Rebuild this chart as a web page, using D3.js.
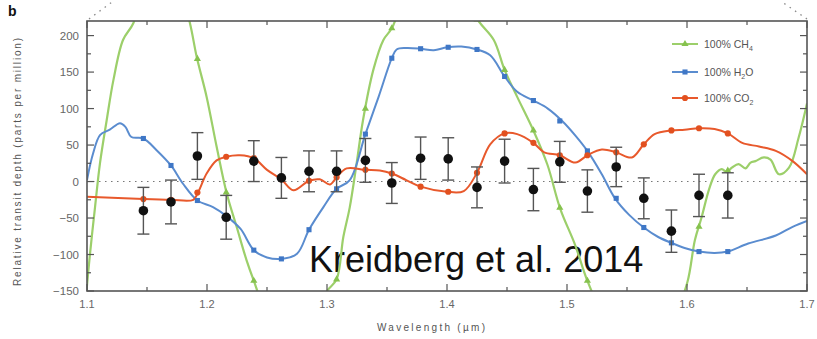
<!DOCTYPE html>
<html><head><meta charset="utf-8">
<script src="https://cdn.jsdelivr.net/npm/d3@7"></script>
<style>html,body{margin:0;padding:0;background:#fff;}svg{display:block;}</style>
</head><body>
<script>
// ---- data ----
const wavelengths = [1.147,1.170,1.192,1.216,1.239,1.262,1.285,1.308,1.332,1.354,1.378,1.401,1.425,1.448,1.472,1.494,1.517,1.541,1.564,1.587,1.610,1.634];
const depth       = [-40,-28,35,-49,28,5,14,14,29,-2,32,31,-8,28,-11,27,-13,20,-23,-68,-19,-19];
const depthErr    = [32,30,32,30,28,28,28,28,30,28,29,29,28,30,29,28,29,27,28,29,29,31];

const h2oWl  = [1.100,1.105,1.111,1.119,1.1275,1.132,1.137,1.147,1.158,1.170,1.180,1.192,1.205,1.216,1.228,1.239,1.250,1.262,1.275,1.285,1.297,1.308,1.319,1.332,1.343,1.354,1.358,1.366,1.378,1.389,1.400,1.412,1.425,1.436,1.448,1.4585,1.472,1.484,1.496,1.507,1.517,1.529,1.540,1.552,1.564,1.576,1.587,1.598,1.610,1.623,1.634,1.651,1.674,1.688,1.700];
const h2oVal = [2,38,64,71,80,75,61,59,43,22,-3,-26,-35,-47,-65,-94,-104,-106,-99,-66,-35,-10,2,65,116,169,181,183,182,180,184,185,181,173,144,123,111,100,83,63,42,10,-23,-46,-63,-76,-84,-91,-96,-98,-96,-85,-74,-62,-54];
const h2oBin = [59,22,-26,-47,-94,-106,-66,-10,65,169,182,184,181,144,111,83,42,-23,-63,-84,-96,-96];

const co2Wl  = [1.100,1.147,1.170,1.1886,1.1925,1.1997,1.208,1.216,1.2275,1.239,1.250,1.262,1.272,1.285,1.294,1.3025,1.308,1.3164,1.332,1.344,1.354,1.366,1.378,1.400,1.414,1.425,1.436,1.448,1.4585,1.472,1.481,1.494,1.507,1.517,1.529,1.541,1.554,1.564,1.573,1.587,1.598,1.610,1.623,1.634,1.646,1.660,1.674,1.688,1.700];
const co2Val = [-21,-24,-25,-25,-15,11,29,34,36,32,16,3,-12,1,3,-4,6,18,16,15,11,2,-7,-14,-13,12,51,66,65,53,40,36,26,36,44,40,33,51,65,70,71,73,72,66,53,48,42,28,10];
const co2Bin = [-24,-25,-15,34,32,3,1,6,16,11,-7,-14,12,66,53,36,36,40,51,70,73,66];

const ch4Wl  = [1.099,1.1025,1.1067,1.1108,1.1164,1.122,1.130,1.1386,1.150,1.162,1.175,1.1858,1.1914,1.1997,1.208,1.2164,1.2247,1.233,1.2386,1.250,1.270,1.290,1.300,1.308,1.3136,1.319,1.3247,1.330,1.3386,1.347,1.354,1.370,1.390,1.410,1.4263,1.439,1.448,1.4585,1.472,1.4837,1.4943,1.5068,1.517,1.530,1.560,1.590,1.6003,1.6066,1.612,1.6185,1.6235,1.629,1.633,1.6374,1.643,1.6487,1.653,1.657,1.664,1.6696,1.6766,1.685,1.693,1.700];
const ch4Val = [-160,-99,-35,25,84,139,194,217,280,300,280,217,171,116,48,-16,-62,-108,-134,-180,-210,-180,-150,-134,-76,-35,25,84,153,194,210,270,290,265,220,194,153,116,70,23,-37,-87,-136,-180,-230,-180,-138,-80,-50,-10,10,17,13,19,24,18,26,28,33,30,10,19,60,107];
const ch4Bin = [275,295,168,-15,-136,-200,-190,-134,100,210,282,277,222,153,70,-36,-136,-200,-225,-185,-62,15];

const xTicks = [1.1,1.2,1.3,1.4,1.5,1.6,1.7];
const yTicks = [-150,-100,-50,0,50,100,150,200];
const legendLabels = [["100% CH","4"],["100% H","2","O"],["100% CO","2"]];

// ---- drawing ----
const W = 817, H = 339;
const svg = d3.select("body").append("svg").attr("width", W).attr("height", H)
  .style("font-family", "'Liberation Sans', Arial, sans-serif");
svg.append("rect").attr("width", W).attr("height", H).attr("fill", "#fff");

const x = d3.scaleLinear().domain([1.1, 1.7]).range([87, 807]);
const y = d3.scaleLinear().domain([-150, 220]).range([291, 21]);
const [x0, x1] = x.range(), [y0, y1] = y.range();

const cGreen = "#9ccf6a", cBlue = "#5a8ccf", cRed = "#e8592c";
const cBlueM = "#3f77c6", cRedM = "#e2501f", cGreenM = "#86c24e";

// annotation (under the curves)
svg.append("text").attr("x", 309).attr("y", 272).attr("font-size", 36)
  .attr("font-family", "'Liberation Sans', Arial, sans-serif").attr("fill", "#111")
  .text("Kreidberg et al. 2014");

svg.append("clipPath").attr("id", "clip").append("rect")
  .attr("x", x0).attr("y", y1).attr("width", x1 - x0).attr("height", y0 - y1);
const plot = svg.append("g").attr("clip-path", "url(#clip)");

// zero dotted line
plot.append("line").attr("x1", x0).attr("x2", x1).attr("y1", y(0)).attr("y2", y(0))
  .attr("stroke", "#777").attr("stroke-width", 1.1).attr("stroke-dasharray", "1.5,4.5");

const line = d3.line().x(d => x(d[0])).y(d => y(d[1])).curve(d3.curveCatmullRom.alpha(0.5));

function drawModel(wl, val, color, width) {
  plot.append("path").datum(wl.map((w, i) => [w, val[i]]))
    .attr("d", line).attr("fill", "none").attr("stroke", color).attr("stroke-width", width);
}
drawModel(ch4Wl, ch4Val, cGreen, 2.2);
drawModel(h2oWl, h2oVal, cBlue, 2);
drawModel(co2Wl, co2Val, cRed, 2);

const tri = d3.symbol().type(d3.symbolTriangle).size(22);
const sq = d3.symbol().type(d3.symbolSquare).size(26);
const circ = d3.symbol().type(d3.symbolCircle).size(30);

plot.selectAll(".m4").data(wavelengths).enter().append("path")
  .attr("d", tri).attr("fill", cGreenM)
  .attr("transform", (d, i) => `translate(${x(d)},${y(ch4Bin[i])})`);
plot.selectAll(".mh").data(wavelengths).enter().append("path")
  .attr("d", sq).attr("fill", cBlueM)
  .attr("transform", (d, i) => `translate(${x(d)},${y(h2oBin[i])})`);
plot.selectAll(".mc").data(wavelengths).enter().append("path")
  .attr("d", circ).attr("fill", cRedM)
  .attr("transform", (d, i) => `translate(${x(d)},${y(co2Bin[i])})`);

// data with error bars
const eb = plot.append("g").attr("stroke", "#555").attr("stroke-width", 1.4);
wavelengths.forEach((w, i) => {
  const cx = x(w), top = y(depth[i] + depthErr[i]), bot = y(depth[i] - depthErr[i]);
  eb.append("line").attr("x1", cx).attr("x2", cx).attr("y1", top).attr("y2", bot);
  eb.append("line").attr("x1", cx - 6).attr("x2", cx + 6).attr("y1", top).attr("y2", top);
  eb.append("line").attr("x1", cx - 6).attr("x2", cx + 6).attr("y1", bot).attr("y2", bot);
});
plot.selectAll(".pt").data(wavelengths).enter().append("circle")
  .attr("cx", d => x(d)).attr("cy", (d, i) => y(depth[i])).attr("r", 4.8).attr("fill", "#111");

// frame and ticks
const axG = svg.append("g").attr("stroke", "#555");
axG.append("rect").attr("x", x0).attr("y", y1).attr("width", x1 - x0).attr("height", y0 - y1)
  .attr("fill", "none").attr("stroke-width", 1.6);
const xMinor = d3.range(1.1, 1.7001, 0.05);
xMinor.forEach(v => {
  const major = xTicks.some(t => Math.abs(t - v) < 1e-6);
  const L = major ? 7 : 4;
  axG.append("line").attr("x1", x(v)).attr("x2", x(v)).attr("y1", y0).attr("y2", y0 - L).attr("stroke-width", 1.2);
  axG.append("line").attr("x1", x(v)).attr("x2", x(v)).attr("y1", y1).attr("y2", y1 + L).attr("stroke-width", 1.2);
});
const yMinor = d3.range(-150, 220, 25);
yMinor.forEach(v => {
  const major = yTicks.includes(v);
  const L = major ? 7 : 4;
  axG.append("line").attr("x1", x0).attr("x2", x0 + L).attr("y1", y(v)).attr("y2", y(v)).attr("stroke-width", 1.2);
  axG.append("line").attr("x1", x1).attr("x2", x1 - L).attr("y1", y(v)).attr("y2", y(v)).attr("stroke-width", 1.2);
});

// tick labels
svg.selectAll(".yt").data(yTicks).enter().append("text")
  .attr("x", 79).attr("y", d => y(d) + 4).attr("text-anchor", "end")
  .attr("font-size", 11.5).attr("fill", "#666")
  .text(d => d < 0 ? "\u2212" + Math.abs(d) : d);
svg.selectAll(".xt").data(xTicks).enter().append("text")
  .attr("x", d => x(d)).attr("y", 308).attr("text-anchor", "middle")
  .attr("font-size", 11).attr("fill", "#666").text(d => d.toFixed(1));

// axis titles
svg.append("text").attr("transform", "translate(21,162) rotate(-90)")
  .attr("text-anchor", "middle").attr("font-size", 10).attr("fill", "#555")
  .attr("textLength", 248).attr("lengthAdjust", "spacing")
  .text("Relative transit depth (parts per million)");
svg.append("text").attr("x", 431).attr("y", 331).attr("text-anchor", "middle")
  .attr("font-size", 10).attr("fill", "#555")
  .attr("textLength", 108).attr("lengthAdjust", "spacing")
  .text("Wavelength (\u00b5m)");

// panel letter
svg.append("text").attr("x", 8).attr("y", 16).attr("font-size", 14).attr("font-weight", "bold")
  .attr("fill", "#111").text("b");

// corner dotted marks
svg.append("line").attr("x1", 89).attr("y1", 19).attr("x2", 112).attr("y2", 2)
  .attr("stroke", "#888").attr("stroke-width", 1.3).attr("stroke-dasharray", "1.5,5");
svg.append("line").attr("x1", 807).attr("y1", 19).attr("x2", 782).attr("y2", 2)
  .attr("stroke", "#888").attr("stroke-width", 1.3).attr("stroke-dasharray", "1.5,5");

// legend
const legColors = [[cGreen, cGreenM, tri], [cBlue, cBlueM, sq], [cRed, cRedM, circ]];
const legY = [44, 72, 98];
legendLabels.forEach((lab, i) => {
  const g = svg.append("g");
  g.append("line").attr("x1", 672).attr("x2", 698).attr("y1", legY[i]).attr("y2", legY[i])
    .attr("stroke", legColors[i][0]).attr("stroke-width", 2);
  g.append("path").attr("d", legColors[i][2]).attr("fill", legColors[i][1])
    .attr("transform", `translate(685,${legY[i]})`);
  const t = g.append("text").attr("x", 704).attr("y", legY[i] + 4).attr("font-size", 10.5).attr("fill", "#555");
  t.append("tspan").text(lab[0]);
  t.append("tspan").attr("font-size", 7).attr("dy", 3).text(lab[1]);
  if (lab[2]) t.append("tspan").attr("dy", -3).text(lab[2]);
});
</script>
</body></html>
